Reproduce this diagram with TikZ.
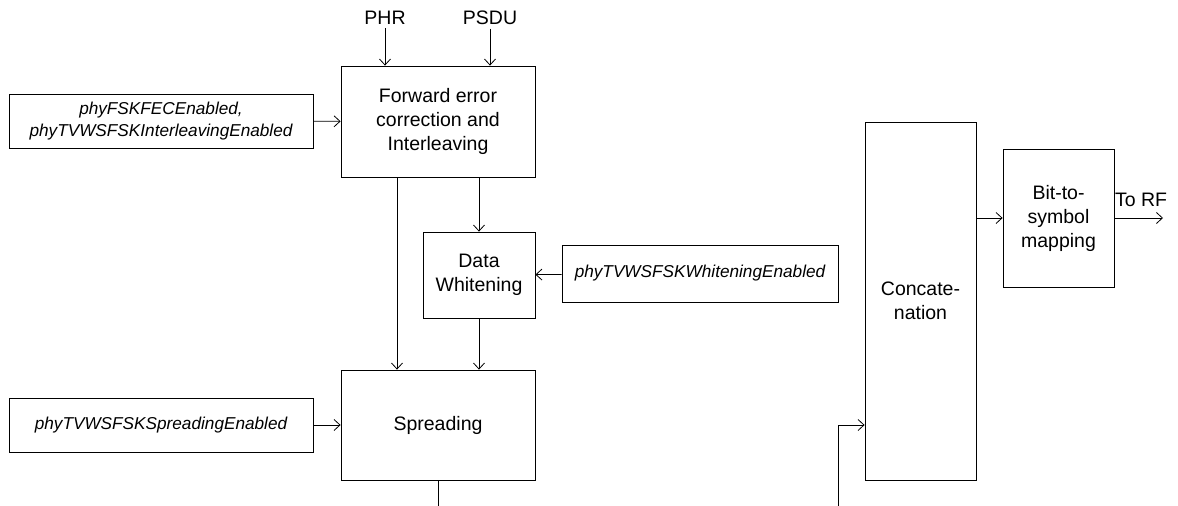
\documentclass[tikz,border=0pt]{standalone}
\usepackage{fontspec}
\setmainfont{Liberation Sans}
\usetikzlibrary{arrows.meta}

\begin{document}
\begin{tikzpicture}[x=1pt,y=-1pt,line width=0.8pt,
  font=\fontsize{19.5}{24}\selectfont,
  blk/.style={draw,align=center,inner sep=0pt},
  parbox/.style={blk,font=\fontsize{17.2}{22}\selectfont\itshape},
  flow/.style={-{Straight Barb[length=6pt,width=11pt]}}]

\useasboundingbox (0,0) rectangle (1178,506);

% processing blocks
\node[blk,minimum width=194,minimum height=111] (fec) at (438,121.5)
  {Forward error\\correction and\\Interleaving};
\node[blk,minimum width=112,minimum height=86] (white) at (479,275)
  {Data\\Whitening};
\node[blk,minimum width=194,minimum height=110] (spread) at (438,425)
  {Spreading};
\node[blk,minimum width=111,minimum height=358] (concat) at (920.5,301)
  {Concate-\\nation};
\node[blk,minimum width=111,minimum height=138] (mapping) at (1058.5,218)
  {Bit-to-\\symbol\\mapping};

% PIB attribute boxes
\node[parbox,minimum width=304,minimum height=54] (fecpar) at (161,121)
  {phyFSKFECEnabled,\\phyTVWSFSKInterleavingEnabled};
\node[parbox,minimum width=276,minimum height=57] (whitepar) at (700,273.5)
  {phyTVWSFSKWhiteningEnabled};
\node[parbox,minimum width=304,minimum height=54] (spreadpar) at (161,425)
  {phyTVWSFSKSpreadingEnabled};

% inputs and outputs
\node (phr) at (385,18) {PHR};
\node (psdu) at (490,18) {PSDU};
\node (torf) at (1141,200) {To RF};
\coordinate (rf) at (1163,218);
\coordinate (spreadout) at (438,506);
\coordinate (concatin) at (838,506);

\draw[flow] (phr.south) -- (phr.south |- fec.north);
\draw[flow] (psdu.south) -- (psdu.south |- fec.north);
\draw[flow] (fecpar) -- (fec);
\draw[flow] (fec.south -| white.north) -- (white.north);
\draw[flow] ([xshift=-41pt]fec.south) -- ([xshift=-41pt]spread.north);
\draw[flow] (whitepar) -- (white);
\draw[flow] (white.south) -- (white.south |- spread.north);
\draw[flow] (spreadpar) -- (spread);
\draw (spread.south) -- (spreadout);
\draw[flow] (concatin) |- (concat.west |- spread.east);
\draw[flow] (concat.east |- mapping.west) -- (mapping.west);
\draw[flow] (mapping.east) -- (rf);

\end{tikzpicture}
\end{document}
